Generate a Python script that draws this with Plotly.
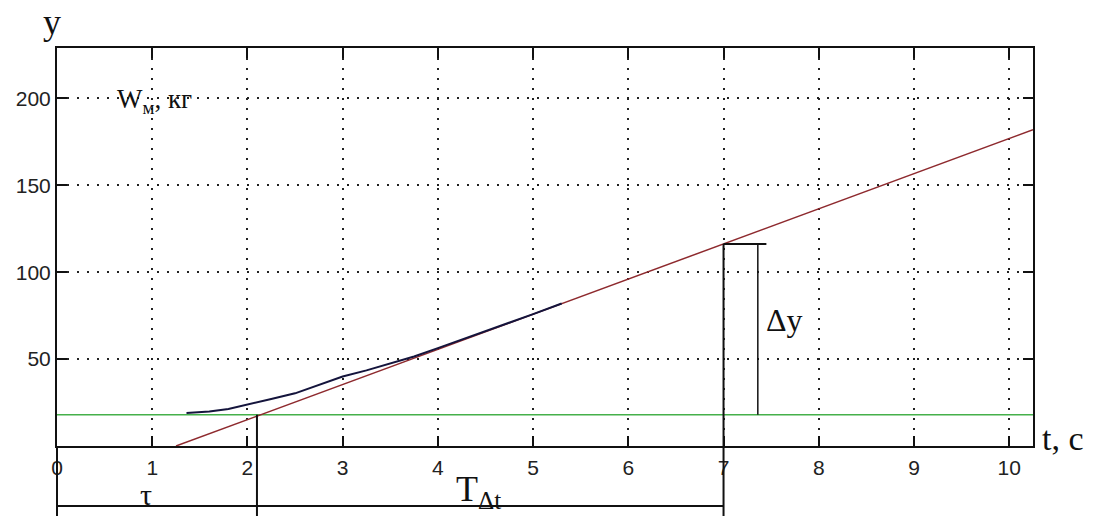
import numpy as np
import plotly.graph_objects as go

# ---- data ----
x_ticks = [0, 1, 2, 3, 4, 5, 6, 7, 8, 9, 10]
y_ticks = [50, 100, 150, 200]

t_red = [1.25, 10.25]          # tangent / asymptote line
y_red = [0.0, 182.0]

t_blue = [1.36, 1.6, 1.8, 2.0, 2.25, 2.5, 2.75, 3.0, 3.25, 3.5, 3.75, 4.0, 4.5, 5.0, 5.3]
y_blue = [19.0, 19.8, 21.3, 24.0, 27.0, 30.3, 35.0, 40.0, 43.5, 47.6, 51.5, 56.3, 66.0, 75.9, 82.0]

t_green = [0.0, 10.25]
green_level = 18.0
y_green = [green_level, green_level]

tau_end = 2.1      # τ
t_end = 7.0        # end of T_Δt
dy_x = 7.36        # Δy marker
dy_cap = 7.45

X_MAX = 10.25
Y_MAX = 229.0

# ---- layout geometry ----
W, H = 1094, 516
ML, MR, MT, MB = 57, 61, 48, 70
PW = W - ML - MR
PH = H - MT - MB


def xp(px):
    return (px - ML) / PW


def yp(py):
    return (H - MB - py) / PH


def ydat2paper(v):
    return v / Y_MAX


y_red_at_end = float(np.interp(t_end, t_red, y_red))
bottom_paper = yp(H)

fig = go.Figure()
fig.add_trace(go.Scatter(x=t_green, y=y_green, mode="lines",
                         line=dict(color="#45b04a", width=1.5), hoverinfo="skip"))
fig.add_trace(go.Scatter(x=t_red, y=y_red, mode="lines",
                         line=dict(color="#8e2a2e", width=1.5), hoverinfo="skip"))
fig.add_trace(go.Scatter(x=t_blue, y=y_blue, mode="lines",
                         line=dict(color="#14143c", width=2), hoverinfo="skip"))

line_k = dict(color="#111", width=2)
shapes = [
    # left frame continues below the axis
    dict(type="line", xref="paper", yref="paper", x0=0, x1=0, y0=0, y1=bottom_paper, line=line_k),
    # lower horizontal line (tau + T_dt)
    dict(type="line", xref="x", yref="paper", x0=0, x1=t_end, y0=yp(506), y1=yp(506), line=line_k),
    # vertical at tau end
    dict(type="line", xref="x", yref="paper", x0=tau_end, x1=tau_end,
         y0=ydat2paper(green_level), y1=bottom_paper, line=line_k),
    # vertical at T end
    dict(type="line", xref="x", yref="paper", x0=t_end, x1=t_end,
         y0=ydat2paper(y_red_at_end), y1=bottom_paper, line=line_k),
    # Δy cap
    dict(type="line", xref="x", yref="y", x0=t_end, x1=dy_cap,
         y0=y_red_at_end, y1=y_red_at_end, line=line_k),
    # Δy vertical
    dict(type="line", xref="x", yref="y", x0=dy_x, x1=dy_x,
         y0=y_red_at_end, y1=green_level, line=dict(color="#111", width=1.5)),
]

serif = "Liberation Serif, Times New Roman, serif"
annotations = [
    dict(text="y", x=xp(52), y=yp(22), font=dict(family=serif, size=36, color="#111")),
    dict(text="W<sub>м</sub>, кг", x=xp(115), y=yp(101), xanchor="left",
         font=dict(family=serif, size=27, color="#111")),
    dict(text="t, c", x=xp(1040), y=yp(438), xanchor="left",
         font=dict(family=serif, size=34, color="#111")),
    dict(text="Δy", x=xp(764), y=yp(320), xanchor="left",
         font=dict(family=serif, size=32, color="#111")),
    dict(text="τ", x=xp(146), y=yp(494), font=dict(family=serif, size=30, color="#111")),
    dict(text="T<sub>Δt</sub>", x=xp(454), y=yp(491), xanchor="left",
         font=dict(family=serif, size=36, color="#111")),
]
for a in annotations:
    a.update(xref="paper", yref="paper", showarrow=False)
    a.setdefault("xanchor", "center")
    a.setdefault("yanchor", "middle")

axis_common = dict(
    showline=True, linecolor="#111", linewidth=2, mirror="ticks",
    ticks="inside", ticklen=10, tickwidth=1.5, tickcolor="#111",
    showgrid=True, gridcolor="#222", gridwidth=1.6, griddash="2px,8px",
    zeroline=False,
    tickfont=dict(family="Liberation Sans, Arial, sans-serif", size=21, color="#222"),
)

fig.update_layout(
    width=W, height=H,
    margin=dict(l=ML, r=MR, t=MT, b=MB, pad=0),
    paper_bgcolor="white", plot_bgcolor="white",
    showlegend=False,
    xaxis=dict(range=[0, X_MAX], tickvals=x_ticks, ticktext=[str(v) for v in x_ticks],
               ticklabelstandoff=2, **axis_common),
    yaxis=dict(range=[0, Y_MAX], tickvals=y_ticks, ticktext=[str(v) for v in y_ticks], **axis_common),
    shapes=shapes,
    annotations=annotations,
)

fig.write_html("out.html")
